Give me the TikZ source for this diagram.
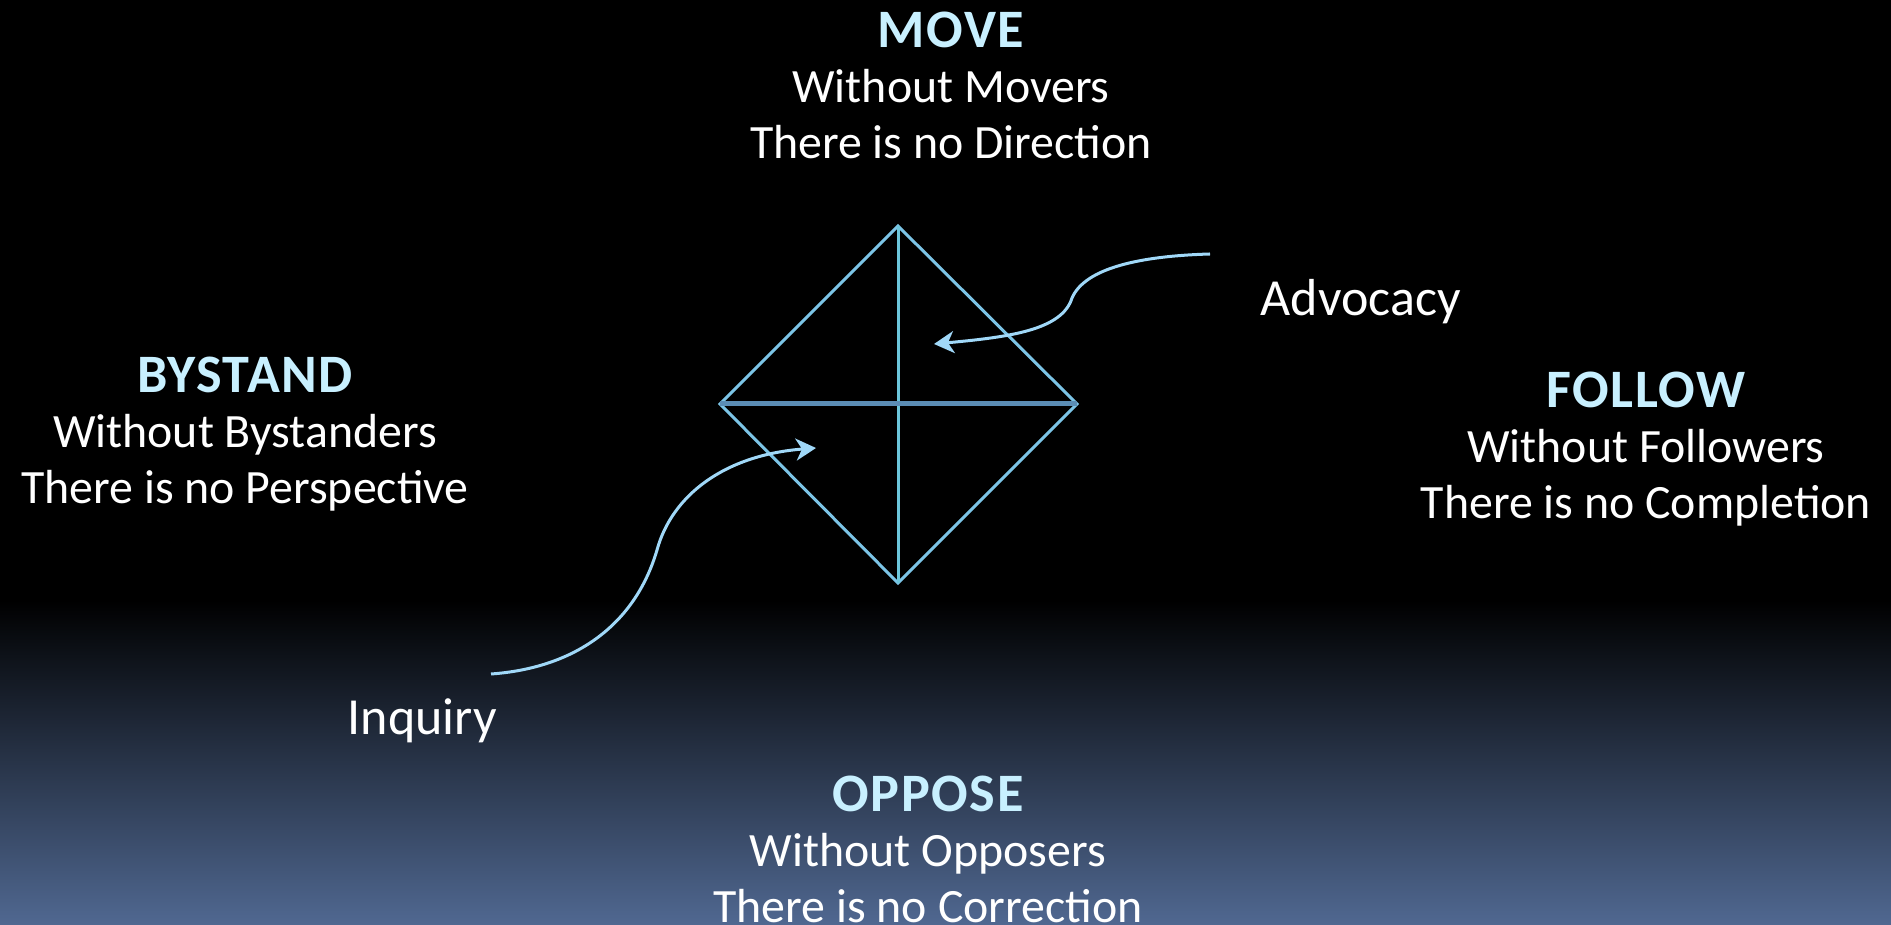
\documentclass[tikz,border=0pt]{standalone}
\usepackage{fontspec}
\setmainfont{Carlito}
\newfontfamily\headfamily[LetterSpace=3]{Carlito}
\usepackage{xcolor}
\usetikzlibrary{arrows.meta,positioning}
\definecolor{headcyan}{HTML}{C8F0FF}
\definecolor{rimblue}{HTML}{7CC4E6}
\definecolor{barblue}{HTML}{5B8DB5}
\definecolor{spineblue}{HTML}{6CC6DC}
\definecolor{arrowblue}{HTML}{A0D8F8}
\definecolor{bgbottom}{HTML}{506891}
\newcommand{\headword}[1]{{\headfamily\bfseries\fontsize{15.4}{15.8}\selectfont\color{headcyan}#1}}
\tikzset{
  quadrant/.style={
    align = center,
    anchor = north,
    inner sep = 0pt,
    text = white,
    font = \fontsize{13.6}{15.8}\selectfont
  },
  tag/.style={
    anchor = base west,
    inner sep = 0pt,
    text = white,
    font = \fontsize{14.8}{17}\selectfont
  },
  rim/.style={
    draw = rimblue,
    line width = 0.03cm,
    line join = miter
  },
  spine/.style={
    draw = spineblue,
    line width = 0.03cm
  },
  crossbar/.style={
    draw = barblue,
    line width = 0.05cm
  },
  pointer/.style={
    draw = arrowblue,
    line width = 0.03cm,
    -{Stealth[inset=0.06cm, length=0.2cm, width=0.22cm]}
  }
}

\begin{document}
\begin{tikzpicture}[x=0.01cm, y=-0.01cm]
    \useasboundingbox (0,0) rectangle (1891,925);
    % background
    \fill[black] (0,0) rectangle (1891,925);
    \shade[top color=black, bottom color=bgbottom] (0,600) rectangle (1891,925);
    % diamond
    \coordinate (top) at (898,226);
    \coordinate (bot) at (898,583);
    \coordinate (lft) at (720,404);
    \coordinate (rgt) at (1077,404);
    \draw[rim] (top) -- (rgt) -- (bot) -- (lft) -- cycle;
    \draw[spine] (top) -- (bot);
    \draw[crossbar] (lft) -- (rgt);
    % the four stances
    \node[quadrant] (move) at (951,11) {\headword{MOVE}\\ Without Movers\\ There is no Direction};
    \node[quadrant] (bystand) at (245,356) {\headword{BYSTAND}\\ Without Bystanders\\ There is no Perspective};
    \node[quadrant] (follow) at (1646,371) {\headword{FOLLOW}\\ Without Followers\\ There is no Completion};
    \node[quadrant] (oppose) at (928,775) {\headword{OPPOSE}\\ Without Opposers\\ There is no Correction};
    % advocacy and inquiry
    \node[tag] (advocacy) at (1260,316) {Advocacy};
    \node[tag] (inquiry) at (347,735) {Inquiry};
    \coordinate (advstart) at (1210,254);
    \coordinate (advtip) at (934,344);
    \coordinate (inqstart) at (491,674);
    \coordinate (inqtip) at (816,448);
    \draw[pointer] (advstart) .. controls (1140,256) and (1085,268) .. (1072,298)
        .. controls (1062,330) and (1010,337) .. (advtip);
    \draw[pointer] (inqstart) .. controls (575,668) and (635,625) .. (657,550)
        .. controls (672,495) and (725,455) .. (inqtip);
\end{tikzpicture}
\end{document}
